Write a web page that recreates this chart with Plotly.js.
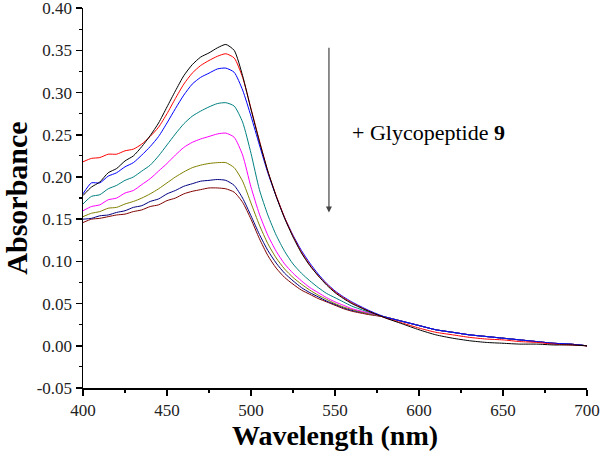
<!DOCTYPE html>
<html>
<head>
<meta charset="utf-8">
<script src="https://cdn.plot.ly/plotly-3.0.1.min.js"></script>
<style>html,body{margin:0;padding:0;background:#fff;}#chart{width:600px;height:455px;}</style>
</head>
<body>
<div id="chart"></div>
<script>
const wavelength = [400,405,410,415,420,425,430,435,440,445,450,455,460,465,470,475,480,485,490,495,500,505,510,515,520,525,530,535,540,545,550,555,560,570,580,590,600,610,620,630,640,650,660,670,680,690,700];

const absBlack = [0.178,0.188,0.194,0.205,0.210,0.219,0.225,0.236,0.249,0.264,0.283,0.302,0.320,0.333,0.342,0.347,0.353,0.357,0.350,
  0.320,0.280,0.242,0.207,0.177,0.151,0.129,0.110,0.095,0.083,0.072,0.063,0.056,0.050,
  0.041,0.033,0.026,0.019,0.013,0.009,0.006,0.004,0.003,0.002,0.002,0.001,0.001,0.000];
const absRed = [0.218,0.222,0.223,0.227,0.227,0.231,0.233,0.239,0.248,0.259,0.275,0.293,0.310,0.323,0.332,0.338,0.343,0.346,0.341,
  0.318,0.281,0.243,0.207,0.178,0.152,0.130,0.111,0.096,0.083,0.073,0.064,0.057,0.051,
  0.041,0.033,0.027,0.021,0.016,0.013,0.010,0.008,0.007,0.005,0.004,0.002,0.001,0.000];
const absBlue = [0.180,0.193,0.193,0.201,0.205,0.212,0.217,0.226,0.236,0.248,0.264,0.281,0.297,0.310,0.318,0.323,0.328,0.329,0.324,
  0.303,0.272,0.238,0.205,0.177,0.152,0.131,0.113,0.098,0.085,0.074,0.065,0.058,0.052,
  0.042,0.034,0.029,0.024,0.019,0.016,0.013,0.011,0.009,0.007,0.005,0.003,0.002,0.000];
const absTeal = [0.168,0.177,0.179,0.186,0.190,0.196,0.200,0.207,0.214,0.225,0.238,0.251,0.263,0.272,0.278,0.283,0.287,0.288,0.284,
  0.265,0.228,0.185,0.155,0.131,0.112,0.097,0.086,0.077,0.069,0.062,0.057,0.052,0.047,
  0.040,0.034,0.029,0.024,0.019,0.016,0.013,0.011,0.009,0.007,0.005,0.003,0.002,0.000];
const absMagenta = [0.160,0.165,0.167,0.173,0.175,0.181,0.184,0.191,0.198,0.207,0.216,0.226,0.235,0.241,0.245,0.248,0.251,0.252,0.247,
  0.226,0.188,0.156,0.131,0.112,0.097,0.086,0.077,0.069,0.063,0.057,0.052,0.048,0.044,
  0.039,0.034,0.029,0.024,0.019,0.016,0.013,0.011,0.009,0.007,0.005,0.003,0.002,0.000];
const absOlive = [0.153,0.157,0.159,0.163,0.164,0.168,0.171,0.175,0.180,0.186,0.193,0.200,0.206,0.211,0.214,0.216,0.217,0.217,0.211,
  0.195,0.169,0.143,0.121,0.104,0.091,0.081,0.073,0.066,0.060,0.055,0.050,0.046,0.043,
  0.038,0.034,0.029,0.024,0.019,0.016,0.013,0.011,0.009,0.007,0.005,0.003,0.002,0.000];
const absNavy = [0.150,0.151,0.154,0.155,0.158,0.160,0.164,0.166,0.171,0.174,0.180,0.184,0.189,0.192,0.195,0.196,0.197,0.196,0.190,
  0.175,0.154,0.132,0.113,0.098,0.086,0.077,0.069,0.063,0.058,0.053,0.049,0.045,0.042,
  0.038,0.034,0.029,0.024,0.019,0.016,0.013,0.011,0.009,0.007,0.005,0.003,0.002,0.000];
const absBrown = [0.146,0.150,0.151,0.153,0.155,0.156,0.159,0.161,0.165,0.167,0.172,0.175,0.180,0.183,0.185,0.187,0.187,0.186,0.182,
  0.170,0.150,0.127,0.107,0.092,0.081,0.073,0.066,0.061,0.056,0.052,0.048,0.044,0.041,
  0.037,0.034,0.029,0.024,0.019,0.016,0.013,0.011,0.009,0.007,0.005,0.003,0.002,0.000];

const seriesNames = ['0', '1', '2', '3', '4', '5', '6', '7'];
const seriesValues = [absBlack, absRed, absBlue, absTeal, absMagenta, absOlive, absNavy, absBrown];
const seriesColors = ['#000000', '#ff0000', '#0000ff', '#008080', '#ff00ff', '#808000', '#000080', '#800000'];

const yTickVals = [-0.05, 0.00, 0.05, 0.10, 0.15, 0.20, 0.25, 0.30, 0.35, 0.40];
const yTickText = ['-0.05', '0.00', '0.05', '0.10', '0.15', '0.20', '0.25', '0.30', '0.35', '0.40'];
const xTickVals = [400, 450, 500, 550, 600, 650, 700];
const xTickText = ['400', '450', '500', '550', '600', '650', '700'];

const traces = [];
for (let i = seriesValues.length - 1; i >= 0; i--) {
  traces.push({
    x: wavelength, y: seriesValues[i], type: 'scatter', mode: 'lines',
    name: seriesNames[i], line: {color: seriesColors[i], width: 1, shape: 'spline', smoothing: 0.6}, showlegend: false
  });
}

const serif = 'Liberation Serif';
const layout = {
  width: 600, height: 455,
  margin: {l: 83, r: 13, t: 8, b: 67},
  paper_bgcolor: '#fff', plot_bgcolor: '#fff',
  font: {family: serif, color: '#222'},
  xaxis: {
    range: [400, 700], tickmode: 'array', tickvals: xTickVals, ticktext: xTickText,
    ticks: 'outside', ticklen: 6, tickwidth: 1.5, tickcolor: '#000', ticklabeloverflow: 'allow',
    showline: true, linecolor: '#000', linewidth: 1.5, showgrid: false, zeroline: false,
    tickfont: {family: serif, size: 17, color: '#222'},
    minor: {dtick: 25, tick0: 400, ticks: 'outside', ticklen: 3, tickwidth: 1.2, tickcolor: '#000', showgrid: false},
    title: {text: '<b>Wavelength (nm)</b>', font: {family: serif, size: 28, color: '#000'}, standoff: 4},
    automargin: false
  },
  yaxis: {
    range: [-0.05, 0.4002], tickmode: 'array', tickvals: yTickVals, ticktext: yTickText,
    ticks: 'outside', ticklen: 6, tickwidth: 1.5, tickcolor: '#000', ticklabeloverflow: 'allow',
    showline: true, linecolor: '#000', linewidth: 1.5, showgrid: false, zeroline: false,
    tickfont: {family: serif, size: 17, color: '#222'},
    minor: {dtick: 0.025, tick0: 0, ticks: 'outside', ticklen: 3, tickwidth: 1.2, tickcolor: '#000', showgrid: false},
    title: {text: '<b>Absorbance</b>', font: {family: serif, size: 30, color: '#000'}, standoff: 13},
    automargin: false
  },
  annotations: [
    {x: 546.4, y: 0.158, xref: 'x', yref: 'y', ax: 546.4, ay: 0.355, axref: 'x', ayref: 'y',
     showarrow: true, arrowhead: 2, arrowsize: 1, arrowwidth: 1.2, arrowcolor: '#444', text: ''},
    {x: 558.9, y: 0.253, xref: 'x', yref: 'y', xanchor: 'left', yanchor: 'middle', showarrow: false,
     text: '+ Glycopeptide <b>9</b>', font: {family: serif, size: 22, color: '#000'}}
  ]
};

Plotly.newPlot('chart', traces, layout, {staticPlot: true, displayModeBar: false});
</script>
</body>
</html>
